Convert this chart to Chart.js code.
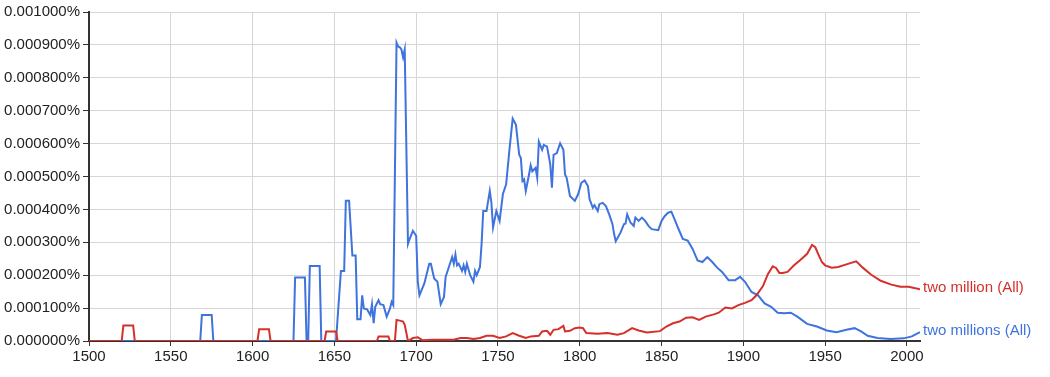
<!DOCTYPE html>
<html>
<head>
<meta charset="utf-8">
<script src="https://cdn.jsdelivr.net/npm/chart.js@4/dist/chart.umd.min.js"></script>
<style>
html,body{margin:0;padding:0;background:#fff;}
canvas{display:block;}
</style>
</head>
<body>
<canvas id="c" width="1050" height="377"></canvas>
<script>
// values in units of 0.000001 %
const blueLabel = 'two millions (All)';
const redLabel = 'two million (All)';

const blueYears = [1500,1568,1569,1575,1576,1625,1626,1632,1633,1634,1635,1641,1642,1651,1654,1656,1657,1659,1661,1663,1664,1666,1667,1668,1670,1672,1673,1674,1675,1677,1678,1680,1682,1684,1685,1686,1688,1689,1690,1691,1692,1693,1695,1696,1698,1700,1701,1702,1705,1708,1709,1711,1713,1715,1717,1718,1720,1722,1723,1724,1725,1726,1728,1729,1730,1731,1733,1735,1736,1737,1739,1740,1741,1743,1745,1746,1747,1749,1751,1753,1755,1757,1759,1761,1763,1764,1765,1766,1767,1769,1770,1771,1773,1774,1775,1777,1778,1780,1782,1783,1784,1786,1788,1790,1791,1792,1794,1797,1799,1801,1803,1805,1806,1808,1809,1811,1812,1814,1816,1818,1820,1821,1822,1825,1827,1828,1829,1831,1833,1834,1836,1838,1840,1842,1844,1848,1850,1852,1854,1856,1858,1860,1863,1866,1869,1872,1875,1878,1881,1884,1887,1891,1895,1898,1901,1905,1909,1913,1917,1921,1925,1929,1933,1939,1945,1951,1957,1963,1968,1972,1976,1982,1990,1998,2003,2008];
const blueValues = [0,0,79,79,0,0,193,193,0,0,228,228,0,0,213,213,426,426,260,260,66,66,139,99,96,79,112,54,104,124,112,109,74,99,119,109,907,895,893,886,862,886,295,310,335,320,180,139,175,235,235,190,180,112,134,195,225,255,235,263,230,235,213,230,210,235,200,180,213,200,225,295,395,395,456,420,345,395,365,446,476,580,676,657,566,556,486,491,456,506,534,516,526,496,606,581,596,591,536,466,566,571,601,581,506,496,441,426,446,481,488,471,431,405,413,395,416,420,410,385,355,325,303,330,355,357,385,360,350,375,365,375,365,350,340,337,365,380,390,393,370,345,310,305,280,245,240,255,240,223,210,185,185,195,180,149,139,114,104,86,84,86,74,52,44,32,27,34,39,29,16,9,6,8,14,27];

const redYears = [1500,1520,1521,1527,1528,1603,1604,1610,1611,1644,1645,1651,1652,1676,1677,1683,1684,1687,1688,1690,1692,1693,1695,1698,1701,1704,1710,1717,1723,1727,1731,1735,1739,1743,1747,1751,1755,1759,1763,1767,1770,1775,1777,1780,1782,1784,1787,1790,1791,1794,1797,1800,1802,1804,1811,1817,1823,1827,1832,1836,1841,1849,1853,1857,1861,1865,1869,1873,1877,1882,1885,1889,1893,1897,1901,1905,1908,1912,1915,1918,1920,1922,1924,1927,1931,1935,1939,1942,1944,1946,1948,1950,1954,1958,1963,1969,1973,1978,1984,1990,1996,2001,2008];
const redValues = [0,0,47,47,0,0,36,36,0,0,29,29,0,0,14,14,0,0,64,62,59,49,0,9,11,2,4,4,4,9,9,6,9,16,16,9,14,24,16,9,14,16,29,31,19,34,36,46,29,31,39,41,39,24,22,24,19,24,39,32,26,30,44,54,59,71,72,64,74,81,86,102,99,109,116,124,139,167,203,227,222,207,207,210,230,247,265,292,285,262,240,230,223,225,233,242,223,202,183,172,165,165,157];

const xMin = 1500, xMax = 2008, xStep = 50;
const yMin = 0, yMax = 1000, yStep = 100;

const BLUE = '#3f73de';
const RED = '#d5302b';
const FONT = 'Arial, "Liberation Sans", sans-serif';

const toPts = (xs, ys) => xs.map((x, i) => ({x: x, y: ys[i]}));

const endLabels = {
  id: 'endLabels',
  afterDatasetsDraw(chart) {
    const ctx = chart.ctx;
    const ys = chart.scales.y;
    const area = chart.chartArea;
    ctx.save();
    ctx.font = '15px ' + FONT;
    ctx.textBaseline = 'middle';
    ctx.textAlign = 'left';
    chart.data.datasets.forEach(ds => {
      const last = ds.data[ds.data.length - 1];
      ctx.fillStyle = ds.borderColor;
      ctx.fillText(ds.label, area.right + 3, ys.getPixelForValue(last.y) - 1);
    });
    ctx.restore();
  }
};

new Chart(document.getElementById('c'), {
  type: 'line',
  data: {
    datasets: [
      {label: redLabel, data: toPts(redYears, redValues), borderColor: RED, borderWidth: 2, pointRadius: 0, tension: 0, fill: false},
      {label: blueLabel, data: toPts(blueYears, blueValues), borderColor: BLUE, borderWidth: 2, pointRadius: 0, tension: 0, fill: false}
    ]
  },
  options: {
    responsive: false,
    animation: false,
    devicePixelRatio: 1,
    layout: {padding: {top: 9, right: 130, bottom: 0, left: 0}},
    plugins: {legend: {display: false}, tooltip: {enabled: false}},
    scales: {
      x: {
        type: 'linear', min: xMin, max: xMax,
        afterFit: s => { s.height = 36; },
        ticks: {stepSize: xStep, includeBounds: false, color: '#222', font: {family: FONT, size: 15}, padding: 2, maxRotation: 0,
                callback: v => String(v)},
        grid: {color: '#d6d6d6', lineWidth: 1, tickColor: '#333', tickLength: 5},
        border: {color: '#333', width: 2}
      },
      y: {
        min: yMin, max: yMax,
        afterFit: s => { s.width = 89; },
        ticks: {stepSize: yStep, color: '#222', font: {family: FONT, size: 15}, padding: 3,
                callback: v => (v / 1e6).toFixed(6) + '%'},
        grid: {color: '#d6d6d6', lineWidth: 1, tickColor: '#333', tickLength: 6},
        border: {color: '#333', width: 2}
      }
    }
  },
  plugins: [endLabels]
});
</script>
</body>
</html>
